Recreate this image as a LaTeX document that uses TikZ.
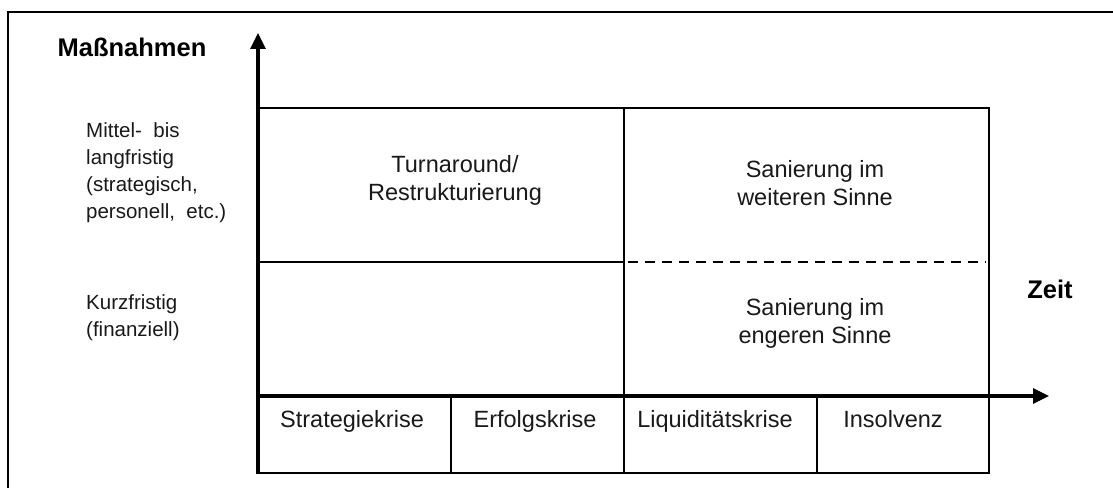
\documentclass[tikz,border=0pt]{standalone}
\usepackage{fontspec}
\setmainfont{Liberation Sans}
\usetikzlibrary{arrows.meta}
\begin{document}
\begin{tikzpicture}[x=1pt,y=-1pt,
  axis/.style={line width=3.2pt,-{Triangle[length=16pt,width=15pt]}},
  grid/.style={line width=2.3pt},
  celltext/.style={inner sep=0pt,align=center,text=black!90,font=\fontsize{23.5}{28}\selectfont},
  sidetext/.style={inner sep=0pt,align=left,anchor=west,text=black!90,font=\fontsize{20.5}{27}\selectfont},
  boldtext/.style={inner sep=0pt,font=\fontsize{25.5}{30}\selectfont\bfseries}]
\useasboundingbox (0,0) rectangle (1113,487);
\fill[white] (0,0) rectangle (1113,487);
% frame
\draw[line width=2.6pt] (8,490) -- (8,12) -- (1116,12);
% coordinates
\coordinate (o) at (258,396);
\coordinate (ytip) at (258,33);
\coordinate (xtip) at (1049,396);
\coordinate (bot) at (258,474);
% grid
\draw[grid] (258,108) -- (989,108) -- (989,473) -- (258,473);
\draw[grid] (624,108) -- (624,473);
\draw[grid] (258,262) -- (624,262);
\draw[grid,dash pattern=on 10pt off 7pt] (628,262) -- (986,262);
\draw[grid] (451,396) -- (451,473);
\draw[grid] (817,396) -- (817,473);
% axes
\draw[axis] (bot) -- (ytip);
\draw[axis] (o) -- (xtip);
% labels
\node[boldtext] (mass) at (132,47) {Maßnahmen};
\node[boldtext] (zeit) at (1050,289) {Zeit};
\node[sidetext] (lang) at (86,173) {Mittel-\ \ bis\\langfristig\\(strategisch,\\personell,\ \ etc.)};
\node[sidetext] (kurz) at (86,318) {Kurzfristig\\(finanziell)};
\node[celltext] (turn) at (455,180) {Turnaround/\\Restrukturierung};
\node[celltext] (sw) at (815,183) {Sanierung im\\weiteren Sinne};
\node[celltext] (se) at (815,323) {Sanierung im\\engeren Sinne};
\node[celltext,anchor=base] (k1) at (352,427) {Strategiekrise};
\node[celltext,anchor=base] (k2) at (535,427) {Erfolgskrise};
\node[celltext,anchor=base] (k3) at (715,427) {Liquiditätskrise};
\node[celltext,anchor=base] (k4) at (893,427) {Insolvenz};
\end{tikzpicture}
\end{document}
